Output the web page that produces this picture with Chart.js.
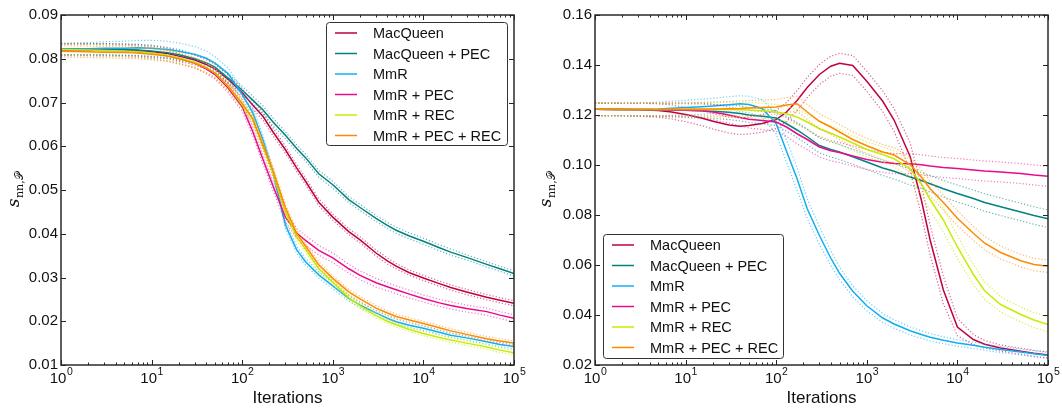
<!DOCTYPE html>
<html>
<head>
<meta charset="utf-8">
<script src="https://cdn.jsdelivr.net/npm/chart.js@4.4.1/dist/chart.umd.min.js"></script>
<style>
  body { margin: 0; background: #fff; }
  .panel { position: absolute; top: 0; width: 531px; height: 412px; }
  canvas { display: block; }
</style>
</head>
<body>
<div class="panel" style="left:0"><canvas id="left" width="531" height="412"></canvas></div>
<div class="panel" style="left:531px"><canvas id="right" width="531" height="412"></canvas></div>
<script>
const ITER = [1, 2, 3, 5, 7, 10, 15, 20, 30, 40, 50, 70, 100, 130, 170, 220, 300, 400, 500, 700,
  1000, 1500, 2000, 3000, 4000, 5000, 7000, 10000, 15000, 20000, 30000, 50000, 70000, 100000];

const SERIES = ["MacQueen", "MacQueen + PEC", "MmR", "MmR + PEC", "MmR + REC", "MmR + PEC + REC"];
const COLORS = ["#bf0042", "#008282", "#12aef0", "#ea0a8c", "#c4ee00", "#ff8a00"];
const BAND_COLORS = ["rgba(191,0,66,0.6)", "rgba(0,130,130,0.6)", "rgba(18,174,240,0.6)",
  "rgba(234,10,140,0.55)", "rgba(196,238,0,0.7)", "rgba(255,138,0,0.6)"];

const L_Y_TICKS = [0.01, 0.02, 0.03, 0.04, 0.05, 0.06, 0.07, 0.08, 0.09];
const R_Y_TICKS = [0.02, 0.04, 0.06, 0.08, 0.10, 0.12, 0.14, 0.16];
const X_TICK_EXP = [0, 1, 2, 3, 4, 5];

// left panel: mean curves
const L_MACQUEEN = [0.0822, 0.0821, 0.0822, 0.0820, 0.0819, 0.0816, 0.0812, 0.0806, 0.0797, 0.0787, 0.0777, 0.0753, 0.0722, 0.0695, 0.0668, 0.0632, 0.0592, 0.0550, 0.0520, 0.0472,
  0.0438, 0.0405, 0.0386, 0.0356, 0.0338, 0.0326, 0.0311, 0.0299, 0.0286, 0.0277, 0.0267, 0.0255, 0.0248, 0.0241];
const L_MACQUEEN_PEC = [0.0822, 0.0822, 0.0821, 0.0821, 0.0820, 0.0818, 0.0814, 0.0809, 0.0800, 0.0791, 0.0781, 0.0756, 0.0728, 0.0706, 0.0683, 0.0655, 0.0625, 0.0595, 0.0574, 0.0537,
  0.0512, 0.0478, 0.0460, 0.0435, 0.0419, 0.0408, 0.0395, 0.0383, 0.0368, 0.0358, 0.0346, 0.0330, 0.0320, 0.0309];
const L_MMR = [0.0822, 0.0823, 0.0824, 0.0824, 0.0825, 0.0824, 0.0821, 0.0817, 0.0810, 0.0801, 0.0790, 0.0766, 0.0718, 0.0678, 0.0614, 0.0538, 0.0420, 0.0363, 0.0336, 0.0306,
  0.0281, 0.0252, 0.0237, 0.0219, 0.0207, 0.0199, 0.0191, 0.0184, 0.0175, 0.0168, 0.0162, 0.0153, 0.0147, 0.0142];
const L_MMR_PEC = [0.0820, 0.0820, 0.0819, 0.0818, 0.0816, 0.0813, 0.0807, 0.0801, 0.0790, 0.0777, 0.0764, 0.0733, 0.0690, 0.0635, 0.0569, 0.0508, 0.0438, 0.0401, 0.0385, 0.0362,
  0.0345, 0.0320, 0.0305, 0.0288, 0.0279, 0.0272, 0.0262, 0.0252, 0.0242, 0.0236, 0.0229, 0.0222, 0.0214, 0.0207];
const L_MMR_REC = [0.0821, 0.0820, 0.0819, 0.0818, 0.0816, 0.0813, 0.0808, 0.0802, 0.0792, 0.0780, 0.0768, 0.0737, 0.0695, 0.0662, 0.0599, 0.0538, 0.0450, 0.0393, 0.0365, 0.0320,
  0.0289, 0.0254, 0.0235, 0.0213, 0.0200, 0.0192, 0.0181, 0.0172, 0.0163, 0.0157, 0.0150, 0.0141, 0.0134, 0.0128];
const L_MMR_ALL = [0.0817, 0.0816, 0.0815, 0.0814, 0.0813, 0.0810, 0.0806, 0.0800, 0.0790, 0.0779, 0.0767, 0.0737, 0.0698, 0.0664, 0.0602, 0.0543, 0.0460, 0.0400, 0.0372, 0.0329,
  0.0298, 0.0267, 0.0251, 0.0230, 0.0219, 0.0211, 0.0203, 0.0195, 0.0185, 0.0178, 0.0170, 0.0160, 0.0155, 0.0150];

// left panel: half width of the dotted band
const L_SPREAD_MACQUEEN = [0.0013, 0.0013, 0.0013, 0.0013, 0.0013, 0.0013, 0.0012, 0.0012, 0.0011, 0.0011, 0.0010, 0.0010, 0.0009, 0.0009, 0.0009, 0.0009, 0.0008, 0.0008, 0.0008, 0.0008,
  0.0007, 0.0007, 0.0007, 0.0007, 0.0007, 0.0006, 0.0006, 0.0006, 0.0006, 0.0006, 0.0006, 0.0006, 0.0006, 0.0006];
const L_SPREAD_MACQUEEN_PEC = [0.0013, 0.0013, 0.0013, 0.0013, 0.0013, 0.0013, 0.0012, 0.0012, 0.0011, 0.0011, 0.0010, 0.0010, 0.0009, 0.0009, 0.0009, 0.0009, 0.0008, 0.0008, 0.0008, 0.0008,
  0.0008, 0.0007, 0.0007, 0.0007, 0.0007, 0.0007, 0.0007, 0.0007, 0.0007, 0.0007, 0.0006, 0.0006, 0.0006, 0.0006];
const L_SPREAD_MMR = [0.0013, 0.0014, 0.0015, 0.0016, 0.0017, 0.0018, 0.0019, 0.0019, 0.0018, 0.0017, 0.0015, 0.0013, 0.0012, 0.0011, 0.0010, 0.0009, 0.0008, 0.0008, 0.0007, 0.0007,
  0.0007, 0.0006, 0.0006, 0.0006, 0.0006, 0.0006, 0.0005, 0.0005, 0.0005, 0.0005, 0.0005, 0.0005, 0.0005, 0.0005];
const L_SPREAD_MMR_PEC = [0.0013, 0.0013, 0.0013, 0.0013, 0.0013, 0.0013, 0.0012, 0.0012, 0.0011, 0.0011, 0.0010, 0.0010, 0.0010, 0.0010, 0.0010, 0.0011, 0.0011, 0.0011, 0.0011, 0.0011,
  0.0011, 0.0010, 0.0010, 0.0010, 0.0009, 0.0009, 0.0009, 0.0008, 0.0008, 0.0008, 0.0008, 0.0008, 0.0008, 0.0008];
const L_SPREAD_MMR_REC = [0.0013, 0.0013, 0.0013, 0.0013, 0.0013, 0.0013, 0.0012, 0.0012, 0.0011, 0.0011, 0.0010, 0.0010, 0.0009, 0.0009, 0.0009, 0.0009, 0.0008, 0.0008, 0.0007, 0.0007,
  0.0006, 0.0006, 0.0006, 0.0006, 0.0005, 0.0005, 0.0005, 0.0005, 0.0005, 0.0005, 0.0005, 0.0005, 0.0005, 0.0005];
const L_SPREAD_MMR_ALL = [0.0013, 0.0013, 0.0013, 0.0013, 0.0013, 0.0013, 0.0012, 0.0012, 0.0011, 0.0011, 0.0010, 0.0010, 0.0009, 0.0009, 0.0009, 0.0009, 0.0008, 0.0008, 0.0007, 0.0007,
  0.0006, 0.0006, 0.0006, 0.0006, 0.0005, 0.0005, 0.0005, 0.0005, 0.0005, 0.0005, 0.0005, 0.0005, 0.0005, 0.0005];

// right panel: mean curves
const R_MACQUEEN = [0.1223, 0.1222, 0.1221, 0.1218, 0.1212, 0.1202, 0.1188, 0.1175, 0.1160, 0.1155, 0.1158, 0.1166, 0.1182, 0.1212, 0.1258, 0.1310, 0.1362, 0.1395, 0.1407, 0.1398,
  0.1335, 0.1255, 0.1180, 0.1035, 0.0860, 0.0700, 0.0500, 0.0352, 0.0302, 0.0283, 0.0268, 0.0255, 0.0247, 0.0240];
const R_MACQUEEN_PEC = [0.1223, 0.1222, 0.1222, 0.1221, 0.1220, 0.1219, 0.1217, 0.1215, 0.1211, 0.1206, 0.1200, 0.1195, 0.1188, 0.1165, 0.1140, 0.1113, 0.1078, 0.1062, 0.1052, 0.1033,
  0.1012, 0.0988, 0.0975, 0.0952, 0.0938, 0.0925, 0.0905, 0.0886, 0.0866, 0.0850, 0.0833, 0.0812, 0.0798, 0.0785];
const R_MMR = [0.1223, 0.1222, 0.1222, 0.1224, 0.1227, 0.1230, 0.1233, 0.1236, 0.1241, 0.1245, 0.1242, 0.1226, 0.1165, 0.1055, 0.0945, 0.0825, 0.0718, 0.0628, 0.0567, 0.0495,
  0.0437, 0.0388, 0.0364, 0.0337, 0.0322, 0.0311, 0.0299, 0.0288, 0.0279, 0.0271, 0.0262, 0.0252, 0.0245, 0.0238];
const R_MMR_PEC = [0.1223, 0.1222, 0.1222, 0.1221, 0.1220, 0.1219, 0.1217, 0.1212, 0.1200, 0.1190, 0.1183, 0.1178, 0.1172, 0.1152, 0.1125, 0.1102, 0.1072, 0.1057, 0.1050, 0.1036,
  0.1022, 0.1011, 0.1006, 0.1005, 0.1001, 0.0996, 0.0990, 0.0986, 0.0980, 0.0976, 0.0972, 0.0966, 0.0960, 0.0955];
const R_MMR_REC = [0.1223, 0.1222, 0.1222, 0.1222, 0.1222, 0.1222, 0.1222, 0.1222, 0.1222, 0.1221, 0.1220, 0.1217, 0.1212, 0.1205, 0.1192, 0.1172, 0.1145, 0.1127, 0.1112, 0.1088,
  0.1062, 0.1042, 0.1025, 0.0985, 0.0925, 0.0862, 0.0780, 0.0672, 0.0562, 0.0497, 0.0442, 0.0402, 0.0380, 0.0362];
const R_MMR_ALL = [0.1223, 0.1222, 0.1222, 0.1222, 0.1223, 0.1223, 0.1224, 0.1224, 0.1225, 0.1226, 0.1228, 0.1230, 0.1232, 0.1240, 0.1245, 0.1212, 0.1175, 0.1152, 0.1132, 0.1102,
  0.1077, 0.1052, 0.1040, 0.1002, 0.0952, 0.0905, 0.0850, 0.0787, 0.0727, 0.0687, 0.0650, 0.0617, 0.0602, 0.0595];

// right panel: half width of the dotted band
const R_SPREAD_MACQUEEN = [0.0025, 0.0025, 0.0026, 0.0027, 0.0028, 0.0029, 0.0030, 0.0031, 0.0032, 0.0033, 0.0034, 0.0035, 0.0036, 0.0038, 0.0040, 0.0040, 0.0040, 0.0040, 0.0040, 0.0040,
  0.0040, 0.0042, 0.0045, 0.0055, 0.0060, 0.0060, 0.0055, 0.0035, 0.0020, 0.0015, 0.0012, 0.0012, 0.0012, 0.0012];
const R_SPREAD_MACQUEEN_PEC = [0.0025, 0.0025, 0.0025, 0.0025, 0.0025, 0.0026, 0.0027, 0.0028, 0.0029, 0.0030, 0.0030, 0.0030, 0.0030, 0.0030, 0.0030, 0.0030, 0.0030, 0.0030, 0.0030, 0.0030,
  0.0030, 0.0030, 0.0031, 0.0032, 0.0032, 0.0033, 0.0033, 0.0034, 0.0034, 0.0035, 0.0035, 0.0035, 0.0035, 0.0035];
const R_SPREAD_MMR = [0.0025, 0.0025, 0.0026, 0.0027, 0.0028, 0.0029, 0.0030, 0.0031, 0.0032, 0.0032, 0.0033, 0.0035, 0.0040, 0.0045, 0.0045, 0.0040, 0.0035, 0.0030, 0.0025, 0.0022,
  0.0020, 0.0018, 0.0017, 0.0016, 0.0015, 0.0015, 0.0014, 0.0013, 0.0013, 0.0012, 0.0012, 0.0012, 0.0012, 0.0012];
const R_SPREAD_MMR_PEC = [0.0025, 0.0025, 0.0026, 0.0027, 0.0028, 0.0029, 0.0030, 0.0031, 0.0032, 0.0034, 0.0035, 0.0036, 0.0037, 0.0038, 0.0040, 0.0040, 0.0040, 0.0040, 0.0040, 0.0040,
  0.0040, 0.0040, 0.0040, 0.0040, 0.0040, 0.0040, 0.0040, 0.0040, 0.0040, 0.0040, 0.0040, 0.0040, 0.0040, 0.0040];
const R_SPREAD_MMR_REC = [0.0025, 0.0025, 0.0025, 0.0025, 0.0025, 0.0026, 0.0027, 0.0028, 0.0029, 0.0030, 0.0030, 0.0030, 0.0030, 0.0030, 0.0030, 0.0030, 0.0030, 0.0030, 0.0030, 0.0030,
  0.0030, 0.0030, 0.0032, 0.0036, 0.0042, 0.0045, 0.0048, 0.0045, 0.0040, 0.0035, 0.0030, 0.0030, 0.0030, 0.0030];
const R_SPREAD_MMR_ALL = [0.0025, 0.0025, 0.0025, 0.0025, 0.0025, 0.0026, 0.0027, 0.0028, 0.0029, 0.0030, 0.0030, 0.0030, 0.0030, 0.0030, 0.0030, 0.0030, 0.0030, 0.0030, 0.0030, 0.0030,
  0.0030, 0.0030, 0.0030, 0.0030, 0.0030, 0.0030, 0.0030, 0.0030, 0.0028, 0.0027, 0.0026, 0.0025, 0.0025, 0.0025];

const FONT = '"Liberation Sans", Arial, sans-serif';

function buildDatasets(means, spreads) {
  const sets = [];
  means.forEach((m, k) => {
    const pts = (sgn) => ITER.map((it, i) => ({ x: it, y: m[i] + sgn * spreads[k][i] }));
    const base = { pointRadius: 0, tension: 0, fill: false, order: 100 - k };
    sets.push({ ...base, data: pts(1), borderColor: BAND_COLORS[k], borderWidth: 1.2, borderDash: [1.2, 2] });
    sets.push({ ...base, data: pts(-1), borderColor: BAND_COLORS[k], borderWidth: 1.2, borderDash: [1.2, 2] });
    sets.push({ ...base, data: pts(0), borderColor: COLORS[k], borderWidth: 1.5 });
  });
  return sets;
}

// matplotlib style frame, inward ticks, labels and legend box
const axesPlugin = {
  id: "mplAxes",
  afterDraw(chart, args, opts) {
    const { ctx, chartArea: a } = chart;
    const x = chart.scales.x, y = chart.scales.y;
    ctx.save();
    ctx.strokeStyle = "#222";
    ctx.lineWidth = 1;
    ctx.beginPath();
    for (let e = 0; e <= 5; e++) {
      for (let m = 1; m <= 9; m++) {
        const v = m * Math.pow(10, e);
        if (v > 1e5) break;
        const px = Math.round(x.getPixelForValue(v)) + 0.5;
        const len = m === 1 ? 5 : 2.5;
        ctx.moveTo(px, a.bottom); ctx.lineTo(px, a.bottom - len);
        ctx.moveTo(px, a.top); ctx.lineTo(px, a.top + len);
      }
    }
    opts.yTicks.forEach((v) => {
      const py = Math.round(y.getPixelForValue(v)) + 0.5;
      ctx.moveTo(a.left, py); ctx.lineTo(a.left + 5, py);
      ctx.moveTo(a.right, py); ctx.lineTo(a.right - 5, py);
    });
    ctx.stroke();
    ctx.lineWidth = 1.5;
    ctx.strokeStyle = "#2a2a2a";
    ctx.strokeRect(a.left, a.top, a.right - a.left, a.bottom - a.top);

    // y tick labels
    ctx.fillStyle = "#111";
    ctx.font = "15px " + FONT;
    ctx.textAlign = "right";
    ctx.textBaseline = "middle";
    opts.yTicks.forEach((v) => ctx.fillText(v.toFixed(2), a.left - 3, y.getPixelForValue(v)));

    // x tick labels 10^n
    ctx.textAlign = "left";
    ctx.textBaseline = "alphabetic";
    X_TICK_EXP.forEach((e) => {
      const px = x.getPixelForValue(Math.pow(10, e));
      ctx.font = "15px " + FONT;
      const wb = ctx.measureText("10").width;
      ctx.font = "10.5px " + FONT;
      const ws = ctx.measureText(String(e)).width;
      const x0 = px - (wb + ws) / 2;
      ctx.font = "15px " + FONT;
      ctx.fillText("10", x0, a.bottom + 18);
      ctx.font = "10.5px " + FONT;
      ctx.fillText(String(e), x0 + wb + 0.5, a.bottom + 10);
    });

    // axis titles
    ctx.font = "17px " + FONT;
    ctx.textAlign = "center";
    ctx.fillText("Iterations", (a.left + a.right) / 2, a.bottom + 38);

    ctx.save();
    ctx.translate(opts.yLabelX, (a.top + a.bottom) / 2);
    ctx.rotate(-Math.PI / 2);
    ctx.textAlign = "left";
    ctx.font = 'italic 17px "DejaVu Serif", serif';
    const ws = ctx.measureText("s").width;
    ctx.font = '11px "DejaVu Serif", serif';
    const wsub = ctx.measureText("nn,\u{1D4AB}").width;
    const sx = -(ws + wsub) / 2;
    ctx.font = 'italic 17px "DejaVu Serif", serif';
    ctx.fillText("s", sx, 4);
    ctx.font = '11px "DejaVu Serif", serif';
    ctx.fillText("nn,\u{1D4AB}", sx + ws + 0.5, 8);
    ctx.restore();

    // legend
    const L = opts.legend;
    ctx.fillStyle = "#fff";
    ctx.strokeStyle = "#333";
    ctx.lineWidth = 1;
    ctx.beginPath();
    ctx.roundRect(L.x + 0.5, L.y + 0.5, L.w, L.h, 3);
    ctx.fill();
    ctx.stroke();
    ctx.font = "14.5px " + FONT;
    ctx.textAlign = "left";
    ctx.textBaseline = "middle";
    SERIES.forEach((name, k) => {
      const ry = L.y + 11 + k * 20.5;
      ctx.strokeStyle = COLORS[k];
      ctx.lineWidth = 1.5;
      ctx.beginPath();
      ctx.moveTo(L.x + 9, ry); ctx.lineTo(L.x + 31, ry);
      ctx.stroke();
      ctx.fillStyle = "#111";
      ctx.fillText(name, L.x + 47, ry + 1);
    });
    ctx.restore();
  }
};

function makeChart(id, means, spreads, yMin, yMax, yTicks, padding, yLabelX, legend) {
  return new Chart(document.getElementById(id).getContext("2d"), {
    type: "line",
    data: { datasets: buildDatasets(means, spreads) },
    options: {
      responsive: false,
      animation: false,
      layout: { padding },
      plugins: {
        legend: { display: false },
        tooltip: { enabled: false },
        mplAxes: { yTicks, yLabelX, legend }
      },
      scales: {
        x: { type: "logarithmic", min: 1, max: 1e5, display: false },
        y: { type: "linear", min: yMin, max: yMax, display: false }
      }
    },
    plugins: [axesPlugin]
  });
}

makeChart("left",
  [L_MACQUEEN, L_MACQUEEN_PEC, L_MMR, L_MMR_PEC, L_MMR_REC, L_MMR_ALL],
  [L_SPREAD_MACQUEEN, L_SPREAD_MACQUEEN_PEC, L_SPREAD_MMR, L_SPREAD_MMR_PEC, L_SPREAD_MMR_REC, L_SPREAD_MMR_ALL],
  0.01, 0.09, L_Y_TICKS, { left: 61, right: 17, top: 15, bottom: 47 }, 15,
  { x: 326, y: 22, w: 181, h: 123 });

makeChart("right",
  [R_MACQUEEN, R_MACQUEEN_PEC, R_MMR, R_MMR_PEC, R_MMR_REC, R_MMR_ALL],
  [R_SPREAD_MACQUEEN, R_SPREAD_MACQUEEN_PEC, R_SPREAD_MMR, R_SPREAD_MMR_PEC, R_SPREAD_MMR_REC, R_SPREAD_MMR_ALL],
  0.02, 0.16, R_Y_TICKS, { left: 64, right: 14, top: 15, bottom: 47 }, 16,
  { x: 72, y: 234, w: 180, h: 124 });
</script>
</body>
</html>
